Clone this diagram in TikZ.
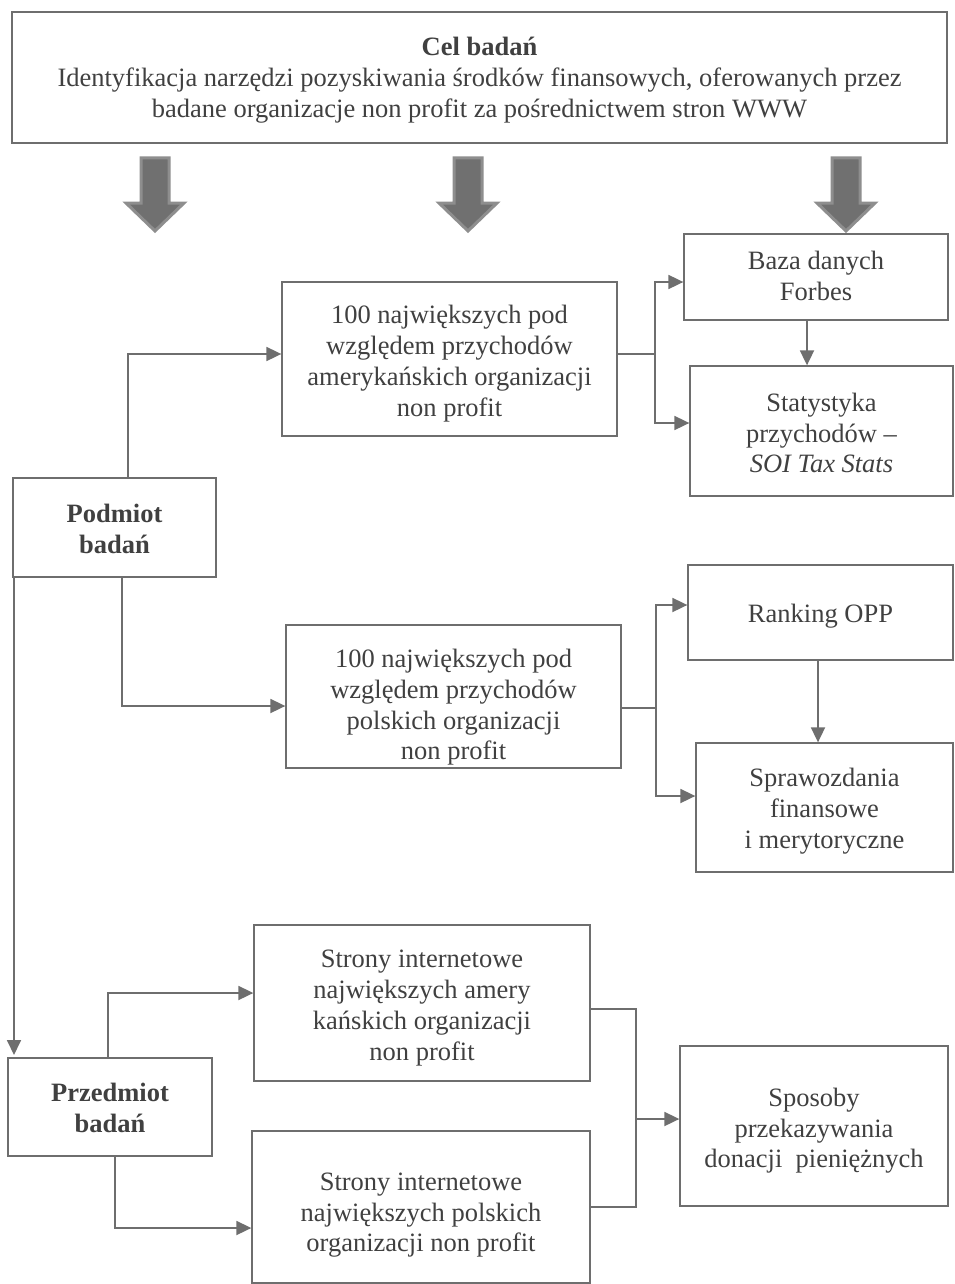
\documentclass[tikz,border=0pt]{standalone}
\usepackage{fontspec}
\setmainfont{Liberation Serif}
\usetikzlibrary{arrows.meta}
\definecolor{ln}{HTML}{6E6E6E}
\definecolor{tx}{HTML}{404040}
\definecolor{bigfill}{HTML}{707070}
\definecolor{bigedge}{HTML}{8E8E8E}
\newcommand{\shtxt}[2]{\raisebox{-#1pt}[\height][\depth]{\begin{tabular}{@{}c@{}}#2\end{tabular}}}
\begin{document}
\begin{tikzpicture}[x=1pt,y=-1pt,
  box/.style={draw=ln,line width=1.3pt,fill=white,inner sep=0pt,align=center,text=tx,
    font=\fontsize{26.5}{30.8}\selectfont},
  conn/.style={draw=ln,line width=1.8pt,-{Triangle[length=15pt,width=14pt]}},
  plain/.style={draw=ln,line width=1.8pt},
  bigarrow/.style={draw=bigedge,fill=bigfill,line width=3pt,line join=miter}]
\useasboundingbox (0,0) rectangle (954,1284);
% boxes
\node[box,minimum width=935pt,minimum height=131pt] (cel) at (479.5,77.5)
  {\shtxt{3}{\textbf{Cel badań}\\Identyfikacja narzędzi pozyskiwania środków finansowych, oferowanych przez\\badane organizacje non profit za pośrednictwem stron WWW}};
\node[box,minimum width=335pt,minimum height=154pt] (amer) at (449.5,359)
  {\shtxt{5}{100 największych pod\\względem przychodów\\amerykańskich organizacji\\non profit}};
\node[box,minimum width=264pt,minimum height=86pt] (forbes) at (816,277)
  {\shtxt{2}{Baza danych\\Forbes}};
\node[box,minimum width=263pt,minimum height=130pt] (stat) at (821.5,431)
  {\shtxt{5}{Statystyka\\przychodów --\\\textit{SOI Tax Stats}}};
\node[box,minimum width=203pt,minimum height=99pt] (podm) at (114.5,527.5)
  {\shtxt{4}{\textbf{Podmiot}\\\textbf{badań}}};
\node[box,minimum width=335pt,minimum height=143pt] (pol) at (453.5,696.5)
  {\shtxt{11}{100 największych pod\\względem przychodów\\polskich organizacji\\non profit}};
\node[box,minimum width=265pt,minimum height=95pt] (rank) at (820.5,612.5)
  {\shtxt{4}{Ranking OPP}};
\node[box,minimum width=257pt,minimum height=129pt] (spraw) at (824.5,807.5)
  {\shtxt{4}{Sprawozdania\\finansowe\\i merytoryczne}};
\node[box,minimum width=336pt,minimum height=156pt] (sa) at (422,1003)
  {\shtxt{5}{Strony internetowe\\największych amery\\kańskich organizacji\\non profit}};
\node[box,minimum width=204pt,minimum height=98pt] (przed) at (110,1107)
  {\shtxt{4}{\textbf{Przedmiot}\\\textbf{badań}}};
\node[box,minimum width=338pt,minimum height=152pt] (sp) at (421,1207)
  {\shtxt{8}{Strony internetowe\\największych polskich\\organizacji non profit}};
\node[box,minimum width=268pt,minimum height=160pt] (spos) at (814,1126)
  {\shtxt{5}{Sposoby\\przekazywania\\donacji\ \ pieniężnych}};
% big arrows
\foreach \cx/\nm in {155/ba1,468/ba2,846/ba3}{
  \draw[bigarrow] (\cx-14,158) -- (\cx+14,158) -- (\cx+14,203) -- (\cx+29,203)
    -- (\cx,231) -- (\cx-29,203) -- (\cx-14,203) -- cycle;
}
% coordinates for bends
\coordinate (c1) at (128,354);
\coordinate (c2) at (122,706);
\coordinate (c3) at (14,1055);
\coordinate (c4) at (108,993);
\coordinate (c5) at (115,1228);
\coordinate (j1) at (655,354);
\coordinate (j2) at (656,708);
\coordinate (j3) at (636,1119);
% connectors
\draw[conn] (podm.north -| c1) |- (amer.west |- c1);
\draw[conn] (podm.south -| c2) |- (pol.west |- c2);
\draw[conn] (podm.south -| c3) -- (c3);
\draw[conn] (przed.north -| c4) |- (sa.west |- c4);
\draw[conn] (przed.south -| c5) |- (sp.west |- c5);
\draw[plain] (amer.east |- j1) -- (j1);
\draw[conn] (j1) |- (forbes.west |- 0,282);
\draw[conn] (j1) |- (stat.west |- 0,423);
\draw[conn] (forbes.south -| 807,0) -- (stat.north -| 807,0);
\draw[plain] (pol.east |- j2) -- (j2);
\draw[conn] (j2) |- (rank.west |- 0,605);
\draw[conn] (j2) |- (spraw.west |- 0,796);
\draw[conn] (rank.south -| 818,0) -- (spraw.north -| 818,0);
\draw[plain] (sa.east |- 0,1009) -| (j3);
\draw[plain] (sp.east |- 0,1207) -| (j3);
\draw[conn] (j3) -- (spos.west |- j3);
\end{tikzpicture}
\end{document}
